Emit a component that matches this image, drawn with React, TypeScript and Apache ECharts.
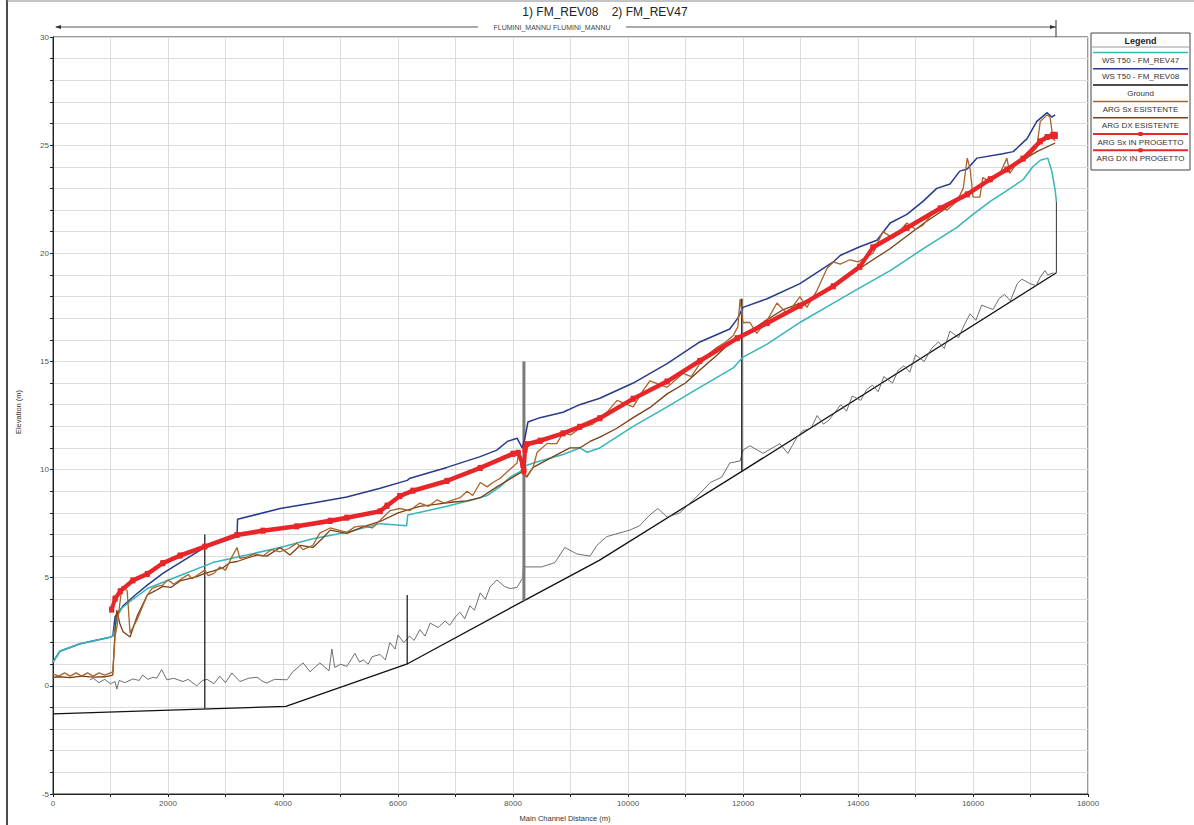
import React, { useEffect, useRef } from "react";
import * as echarts from "echarts";

// ---- data: [main channel distance (m), elevation (m)] ----
const wsRev47: number[][] = [
  [0, 1.1], [120, 1.6], [470, 1.95], [990, 2.25], [1040, 2.3], [1080, 2.7], [1110, 3.2], [1200, 3.6], [1340, 3.9],
  [1640, 4.5], [2210, 5.1], [2780, 5.7], [3370, 6.05], [3950, 6.4], [4520, 6.8], [5110, 7.1], [5690, 7.5],
  [6150, 7.4], [6170, 7.9], [6850, 8.3], [7300, 8.6], [7550, 8.8], [7770, 9.2], [7950, 9.65], [8120, 9.9],
  [8240, 10.2], [8470, 10.4], [8870, 10.7], [9160, 11.0], [9290, 10.8], [9510, 11.0], [10090, 12.0],
  [10680, 12.9], [11250, 13.8], [11830, 14.7], [12000, 15.2], [12420, 15.8], [12990, 16.8], [13570, 17.7],
  [14030, 18.4], [14560, 19.2], [15130, 20.2], [15720, 21.2], [16000, 21.8], [16300, 22.4], [16590, 22.9],
  [16870, 23.4], [17040, 24.0], [17170, 24.3], [17300, 24.4], [17370, 23.8], [17430, 22.9], [17450, 22.4],
];

const wsRev08: number[][] = [
  [0, 1.1], [120, 1.6], [470, 1.95], [990, 2.25], [1040, 2.3], [1080, 3.2], [1220, 3.7], [1430, 4.2],
  [1640, 4.66], [1910, 5.2], [2210, 5.7], [2640, 6.4], [3200, 6.9], [3210, 7.7], [3950, 8.2], [4520, 8.45],
  [5110, 8.73], [5690, 9.14], [6160, 9.5], [6210, 9.6], [6850, 10.1], [7430, 10.6], [7720, 10.9],
  [7900, 11.3], [8070, 11.45], [8160, 11.0], [8210, 11.5], [8260, 12.2], [8470, 12.4], [8870, 12.65],
  [9160, 13.0], [9510, 13.3], [10090, 14.0], [10680, 14.9], [11250, 15.9], [11770, 16.5], [11910, 17.0],
  [12000, 17.5], [12420, 17.9], [12990, 18.6], [13570, 19.6], [13690, 19.9], [14030, 20.3], [14330, 20.6],
  [14560, 21.4], [14850, 21.8], [15130, 22.4], [15370, 23.0], [15600, 23.2], [15770, 23.8], [15900, 23.9],
  [16070, 24.4], [16520, 24.6], [16700, 24.7], [16940, 25.3], [17110, 26.1], [17290, 26.5], [17370, 26.3],
  [17430, 26.4],
];

const groundMain: number[][] = [
  [0, -1.3], [4050, -0.95], [6150, 1.0], [8200, 3.95], [9500, 5.8], [12000, 9.95], [17450, 19.1],
];

const groundRev08: number[][] = [
  [640, 0.28], [700, 0.35], [800, 0.15], [900, 0.3], [1000, 0.1], [1080, 0.2], [1110, -0.15], [1150, 0.25],
  [1250, 0.15], [1390, 0.32], [1500, 0.25], [1560, 0.5], [1650, 0.3], [1740, 0.4], [1800, 0.35], [1890, 0.75],
  [1980, 0.28], [2100, 0.35], [2260, 0.2], [2350, 0.3], [2500, 0.0], [2600, 0.25], [2680, 0.3], [2800, 0.1],
  [2900, 0.45], [3000, 0.15], [3110, 0.6], [3250, 0.2], [3400, 0.35], [3550, 0.4], [3650, 0.2], [3720, 0.13],
  [3850, 0.3], [4070, 0.28], [4170, 0.65], [4350, 1.06], [4470, 0.65], [4640, 1.06], [4800, 0.7], [4850, 1.7],
  [4900, 0.85], [5000, 1.0], [5110, 0.9], [5250, 1.5], [5330, 1.1], [5400, 1.2], [5480, 1.0], [5550, 1.35],
  [5690, 1.45], [5780, 1.2], [5860, 2.0], [5950, 1.7], [6000, 2.35], [6100, 2.0], [6200, 2.3], [6280, 2.1],
  [6380, 2.6], [6470, 2.3], [6560, 2.9], [6700, 2.7], [6820, 3.0], [6900, 2.8], [7000, 3.2], [7080, 3.4],
  [7160, 3.1], [7250, 3.7], [7330, 3.5], [7430, 4.3], [7520, 4.0], [7600, 4.57], [7720, 4.9], [7850, 4.6],
  [7950, 4.5], [8070, 4.55], [8170, 5.0], [8180, 5.5], [8500, 5.5], [8730, 5.7], [8900, 6.4], [9110, 6.1],
  [9340, 6.0], [9460, 6.5], [9630, 6.9], [10030, 7.2], [10200, 7.4], [10380, 7.9], [10520, 8.2], [10680, 7.8],
  [10900, 8.0], [11100, 8.5], [11250, 8.9], [11430, 9.4], [11630, 9.65], [11770, 10.3], [11950, 10.4],
  [12000, 10.9], [12120, 11.1], [12350, 10.75], [12640, 11.2], [12780, 10.75], [12940, 11.5], [13040, 11.8],
  [13180, 11.9], [13290, 12.5], [13400, 12.1], [13500, 12.3], [13700, 13.0], [13800, 12.7], [13900, 13.4],
  [14050, 13.2], [14150, 13.7], [14250, 13.9], [14350, 13.6], [14450, 14.3], [14600, 14.0], [14700, 14.6],
  [14800, 14.8], [14900, 14.5], [15000, 15.3], [15150, 15.0], [15280, 15.6], [15400, 15.9], [15500, 15.6],
  [15600, 16.4], [15750, 16.1], [15850, 16.7], [15950, 17.2], [16050, 16.9], [16150, 17.6], [16350, 17.4],
  [16450, 17.9], [16550, 18.1], [16650, 17.8], [16770, 18.6], [16850, 18.8], [16990, 18.6], [17100, 18.5],
  [17170, 18.9], [17250, 19.2], [17300, 19.0], [17400, 19.1],
];

const argSxEsistente: number[][] = [
  [0, 0.55], [100, 0.45], [200, 0.6], [300, 0.45], [400, 0.6], [500, 0.45], [600, 0.6], [700, 0.45],
  [800, 0.6], [900, 0.5], [1000, 0.6], [1040, 0.65], [1080, 2.3], [1110, 2.7], [1200, 4.6], [1290, 4.4],
  [1340, 2.45], [1460, 3.05], [1640, 4.2], [1720, 4.5], [1810, 4.6], [1910, 4.66], [2000, 4.9], [2100, 4.7],
  [2210, 4.9], [2350, 5.15], [2420, 4.95], [2500, 5.1], [2640, 5.35], [2700, 5.1], [2800, 5.2], [2900, 5.5],
  [3000, 5.35], [3080, 5.8], [3200, 6.4], [3250, 5.9], [3370, 5.95], [3500, 6.1], [3650, 6.0], [3800, 6.3],
  [3950, 6.2], [4100, 6.35], [4240, 6.6], [4350, 6.3], [4520, 6.5], [4640, 7.06], [4820, 7.3], [5110, 7.1],
  [5250, 7.35], [5390, 7.4], [5550, 7.3], [5690, 7.66], [5860, 8.1], [6030, 8.2], [6200, 8.1], [6380, 8.45],
  [6530, 8.3], [6680, 8.6], [6800, 8.45], [6960, 8.6], [7080, 8.7], [7200, 9.0], [7300, 8.8], [7430, 9.4],
  [7550, 9.2], [7650, 9.4], [7780, 9.6], [7900, 9.9], [8070, 10.3], [8100, 10.8], [8170, 9.8], [8240, 9.7],
  [8350, 10.1], [8420, 10.8], [8590, 11.2], [8760, 11.2], [8870, 11.7], [9000, 11.6], [9160, 11.9],
  [9390, 12.1], [9510, 12.4], [9650, 12.7], [9810, 13.2], [10090, 12.9], [10250, 13.6], [10380, 14.1],
  [10680, 13.8], [10960, 14.45], [11100, 14.3], [11250, 14.9], [11430, 15.4], [11550, 15.65], [11700, 15.9],
  [11830, 16.2], [11910, 16.6], [11950, 17.9], [12000, 16.8], [12120, 16.8], [12240, 16.3], [12420, 16.9],
  [12590, 17.7], [12770, 17.2], [12990, 18.0], [13110, 17.5], [13290, 18.3], [13460, 19.3], [13570, 19.6],
  [13690, 19.5], [13860, 19.7], [14000, 19.6], [14260, 20.0], [14430, 21.0], [14610, 20.7], [14850, 21.4],
  [15000, 21.1], [15130, 21.3], [15250, 21.7], [15430, 22.1], [15550, 22.0], [15720, 22.4], [15830, 23.0],
  [15900, 24.4], [15950, 23.9], [16000, 22.6], [16120, 22.6], [16170, 23.5], [16300, 23.3], [16470, 23.7],
  [16590, 24.4], [16640, 23.7], [16770, 24.2], [16940, 24.4], [17110, 24.9], [17170, 26.1], [17290, 26.4],
  [17340, 26.3], [17390, 25.3], [17430, 25.2],
];

const argDxEsistente: number[][] = [
  [0, 0.4], [100, 0.42], [300, 0.38], [500, 0.45], [700, 0.4], [900, 0.42], [1040, 0.5], [1080, 2.6],
  [1110, 3.5], [1160, 2.9], [1220, 2.5], [1340, 2.26], [1460, 3.2], [1640, 4.2], [1780, 4.4], [1910, 4.6],
  [2050, 4.55], [2210, 4.85], [2350, 4.95], [2500, 5.05], [2640, 5.2], [2780, 5.3], [2950, 5.45], [3080, 5.7],
  [3200, 5.75], [3370, 5.9], [3550, 6.05], [3720, 6.0], [3950, 6.4], [4120, 6.05], [4300, 6.5], [4520, 6.4],
  [4680, 6.8], [4820, 7.2], [5110, 7.05], [5390, 7.35], [5690, 7.6], [6000, 8.0], [6380, 8.3], [6680, 8.4],
  [6960, 8.5], [7200, 8.55], [7430, 8.7], [7720, 9.2], [8000, 9.65], [8160, 9.9], [8240, 9.65], [8350, 10.1],
  [8700, 10.6], [8990, 11.0], [9160, 11.0], [9340, 11.3], [9510, 11.5], [9800, 11.9], [10090, 12.4],
  [10400, 12.9], [10680, 13.5], [11000, 14.0], [11250, 14.6], [11550, 15.3], [11830, 16.0], [12120, 16.4],
  [12400, 16.9], [12700, 17.4], [13000, 17.7], [13290, 18.0], [13600, 18.6], [13860, 19.0], [14260, 19.7],
  [14550, 20.2], [14850, 20.8], [15150, 21.4], [15430, 21.9], [15900, 22.8], [16300, 23.4], [16800, 24.2],
  [17110, 24.7], [17430, 25.1],
];

const argSxProgetto: number[][] = [
  [1020, 3.55], [1080, 4.06], [1170, 4.4], [1390, 4.9], [1640, 5.2], [1910, 5.7], [2210, 6.05], [2640, 6.46],
  [3200, 7.0], [3650, 7.2], [4240, 7.4], [4820, 7.66], [5110, 7.8], [5690, 8.1], [5810, 8.36], [6030, 8.8],
  [6260, 9.05], [6850, 9.5], [7430, 10.1], [8000, 10.76], [8090, 10.8], [8170, 10.3], [8190, 10.0],
  [8210, 11.0], [8240, 11.2], [8470, 11.36], [8870, 11.7], [9160, 12.0], [9510, 12.4], [10090, 13.3],
  [10680, 14.1], [11250, 15.05], [11900, 16.1], [12420, 16.8], [12990, 17.6], [13570, 18.5], [14030, 19.4],
  [14260, 20.3], [14850, 21.2], [15430, 22.1], [15900, 22.75], [16300, 23.45], [16590, 23.9], [16870, 24.4],
  [17170, 25.2], [17290, 25.4], [17390, 25.5], [17430, 25.5],
];

const argDxProgetto: number[][] = [
  [1020, 3.5], [1080, 4.0], [1170, 4.35], [1390, 4.85], [1640, 5.15], [1910, 5.65], [2210, 6.0], [2640, 6.42],
  [3200, 6.95], [3650, 7.15], [4240, 7.35], [4820, 7.6], [5110, 7.75], [5690, 8.05], [5810, 8.3], [6030, 8.75],
  [6260, 9.0], [6850, 9.45], [7430, 10.05], [8000, 10.7], [8090, 10.75], [8170, 10.2], [8190, 9.9],
  [8210, 10.9], [8240, 11.15], [8470, 11.3], [8870, 11.65], [9160, 11.95], [9510, 12.35], [10090, 13.25],
  [10680, 14.05], [11250, 15.0], [11900, 16.05], [12420, 16.75], [12990, 17.55], [13570, 18.45],
  [14030, 19.35], [14260, 20.25], [14850, 21.15], [15430, 22.05], [15900, 22.7], [16300, 23.4],
  [16590, 23.85], [16870, 24.35], [17170, 25.15], [17290, 25.35], [17390, 25.4], [17430, 25.4],
];

// structures (vertical marks) drawn at their stations
const structure2640: number[][] = [[2640, -1.05], [2640, 7.0]];
const structure6160: number[][] = [[6160, 1.0], [6160, 4.2]];
const structure8190: number[][] = [[8190, 3.95], [8190, 15.0]];
const structure11980: number[][] = [[11980, 9.95], [11980, 17.9]];
const structure17450: number[][] = [[17450, 19.1], [17450, 22.4]];

const legendNames = [
  "WS T50 - FM_REV47",
  "WS T50 - FM_REV08",
  "Ground",
  "ARG Sx ESISTENTE",
  "ARG DX ESISTENTE",
  "ARG Sx IN PROGETTO",
  "ARG DX IN PROGETTO",
];
const legendColors = ["#36b6b8", "#283a8c", "#111111", "#a8642a", "#7b3f14", "#e8262a", "#e8262a"];

const FONT = "Liberation Sans, Arial, sans-serif";

function lineSeries(name: string, data: number[][], color: string, width: number, z: number, extra: any = {}) {
  return {
    type: "line",
    name,
    data,
    symbol: "none",
    showSymbol: false,
    lineStyle: { color, width },
    itemStyle: { color },
    z,
    silent: true,
    ...extra,
  };
}

export default function App() {
  const ref = useRef<HTMLDivElement>(null);
  useEffect(() => {
    const chart = echarts.init(ref.current as HTMLDivElement, null, { renderer: "svg" });

    const L = { x: 1091, y: 33, w: 99, h: 137 };
    const legendGraphics: any[] = [
      { type: "rect", shape: { x: L.x, y: L.y, width: L.w, height: L.h }, style: { fill: "#fff", stroke: "#444", lineWidth: 1 } },
      { type: "text", x: L.x + L.w / 2, y: L.y + 8, style: { text: "Legend", font: `bold 9px ${FONT}`, fill: "#222", textAlign: "center", textVerticalAlign: "middle" } },
      { type: "line", shape: { x1: L.x + 1, y1: 47, x2: L.x + L.w - 1, y2: 47 }, style: { stroke: "#999", lineWidth: 1 } },
    ];
    legendNames.forEach((n, i) => {
      const ly = 52.5 + 16.3 * i;
      legendGraphics.push({ type: "line", shape: { x1: L.x + 2, y1: ly, x2: L.x + L.w - 2, y2: ly }, style: { stroke: legendColors[i], lineWidth: i >= 5 ? 2 : 1.5 } });
      if (i >= 5) {
        legendGraphics.push({ type: "rect", shape: { x: L.x + L.w / 2 - 2, y: ly - 2, width: 4, height: 4 }, style: { fill: legendColors[i] } });
      }
      legendGraphics.push({ type: "text", x: L.x + L.w / 2, y: ly + 8, style: { text: n, font: `8px ${FONT}`, fill: "#333", textAlign: "center", textVerticalAlign: "middle" } });
    });

    const option: any = {
      animation: false,
      backgroundColor: "#fff",
      grid: { left: 53, right: 106, top: 37, bottom: 31, show: true, borderColor: "#333", borderWidth: 1, backgroundColor: "transparent" },
      xAxis: {
        type: "value",
        min: 0,
        max: 18000,
        interval: 1000,
        axisLine: { show: true, onZero: false, lineStyle: { color: "#222", width: 1 } },
        axisTick: { show: true, length: 3, lineStyle: { color: "#222" } },
        axisLabel: { fontSize: 8, color: "#555", fontFamily: FONT, margin: 5, formatter: (v: number) => (v % 2000 === 0 ? String(v) : "") },
        splitLine: { show: true, lineStyle: { color: "#dcdcdc", width: 1 } },
      },
      yAxis: {
        type: "value",
        min: -5,
        max: 30,
        interval: 1,
        axisLine: { show: true, onZero: false, lineStyle: { color: "#222", width: 1 } },
        axisTick: { show: true, length: 3, lineStyle: { color: "#222" } },
        axisLabel: { fontSize: 8, color: "#555", fontFamily: FONT, margin: 4, formatter: (v: number) => (v % 5 === 0 ? String(v) : "") },
        splitLine: { show: true, lineStyle: { color: "#dcdcdc", width: 1 } },
      },
      series: [
        lineSeries("Ground", groundMain, "#111111", 1.3, 3),
        lineSeries("Ground FM_REV08", groundRev08, "#4a4a4a", 0.8, 3),
        lineSeries("Structure 2640", structure2640, "#111111", 1.2, 4),
        lineSeries("Structure 6160", structure6160, "#111111", 1.2, 4),
        lineSeries("Structure 8190", structure8190, "#7a7a7a", 3, 4),
        lineSeries("Structure 11980", structure11980, "#222222", 1.5, 4),
        lineSeries("Structure 17450", structure17450, "#333333", 1, 4),
        lineSeries("WS T50 - FM_REV08", wsRev08, "#283a8c", 1.5, 5),
        lineSeries("WS T50 - FM_REV47", wsRev47, "#36b6b8", 1.5, 6),
        lineSeries("ARG DX ESISTENTE", argDxEsistente, "#7b3f14", 1.3, 7),
        lineSeries("ARG Sx ESISTENTE", argSxEsistente, "#a8642a", 1.3, 8),
        lineSeries("ARG DX IN PROGETTO", argDxProgetto, "#e8262a", 3.5, 9, { symbol: "rect", symbolSize: 5, showSymbol: true, showAllSymbol: true }),
        lineSeries("ARG Sx IN PROGETTO", argSxProgetto, "#e8262a", 3.5, 10, { symbol: "rect", symbolSize: 5, showSymbol: true, showAllSymbol: true }),
      ],
      graphic: [
        // page frame
        { type: "line", shape: { x1: 7, y1: 0, x2: 7, y2: 825 }, style: { stroke: "#111", lineWidth: 1.5 } },
        { type: "line", shape: { x1: 7, y1: 1, x2: 1194, y2: 1 }, style: { stroke: "#888", lineWidth: 1 } },
        // title
        { type: "text", x: 605, y: 12, style: { text: "1) FM_REV08    2) FM_REV47", font: `12px ${FONT}`, fill: "#222", textAlign: "center", textVerticalAlign: "middle" } },
        // reach arrow line
        { type: "line", shape: { x1: 56, y1: 27, x2: 1056, y2: 27 }, style: { stroke: "#555", lineWidth: 1 } },
        { type: "polygon", shape: { points: [[55, 27], [61, 25], [61, 29]] }, style: { fill: "#333" } },
        { type: "polygon", shape: { points: [[1056, 27], [1050, 25], [1050, 29]] }, style: { fill: "#333" } },
        { type: "line", shape: { x1: 1056, y1: 20, x2: 1056, y2: 37 }, style: { stroke: "#333", lineWidth: 1 } },
        { type: "rect", shape: { x: 478, y: 23, width: 148, height: 8 }, style: { fill: "#fff" } },
        { type: "text", x: 552, y: 27, style: { text: "FLUMINI_MANNU FLUMINI_MANNU", font: `7px ${FONT}`, fill: "#444", textAlign: "center", textVerticalAlign: "middle" } },
        // axis titles
        { type: "text", x: 565, y: 818, style: { text: "Main Channel Distance (m)", font: `7.5px ${FONT}`, fill: "#333", textAlign: "center", textVerticalAlign: "middle" } },
        { type: "text", x: 18, y: 412, rotation: Math.PI / 2, style: { text: "Elevation (m)", font: `7.5px ${FONT}`, fill: "#333", textAlign: "center", textVerticalAlign: "middle" } },
        ...legendGraphics,
      ],
    };
    chart.setOption(option);
    return () => chart.dispose();
  }, []);
  return <div ref={ref} style={{ position: "absolute", left: 0, top: 0, width: 1194, height: 825, background: "#fff" }} />;
}
